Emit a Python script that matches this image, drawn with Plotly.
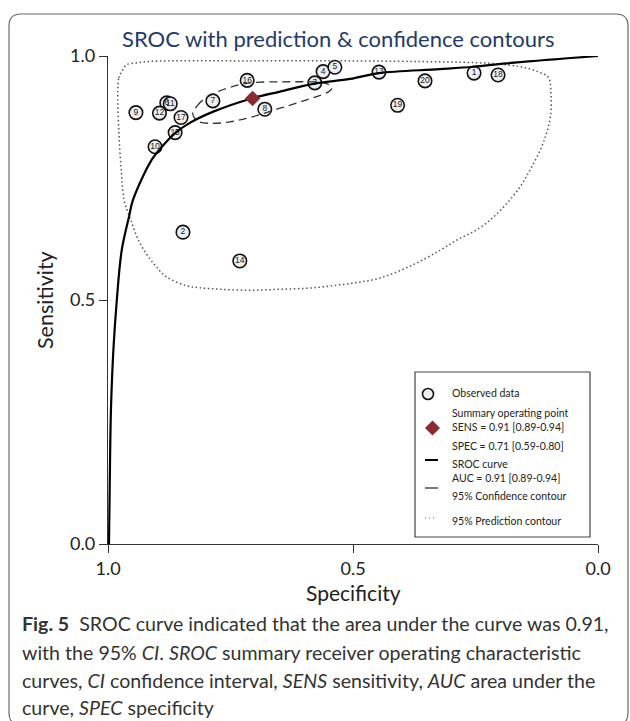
import plotly.graph_objects as go

# ---------------- data ----------------
study_ids = ["1", "2", "3", "4", "5", "6", "7", "8", "9", "10",
             "11", "12", "13", "14", "15", "16", "17", "18", "19", "20"]
study_spec = [0.253, 0.847, 0.578, 0.561, 0.537, 0.880, 0.786, 0.680, 0.943, 0.904,
              0.873, 0.895, 0.447, 0.731, 0.863, 0.716, 0.851, 0.204, 0.409, 0.353]
study_sens = [0.965, 0.639, 0.945, 0.968, 0.977, 0.904, 0.908, 0.891, 0.884, 0.814,
              0.902, 0.883, 0.967, 0.580, 0.843, 0.950, 0.874, 0.961, 0.899, 0.949]

summary_spec = [0.705]
summary_sens = [0.913]

sroc_spec = [0.998, 0.996, 0.994, 0.989, 0.982, 0.972, 0.957, 0.949, 0.911, 0.890,
             0.863, 0.833, 0.785, 0.707, 0.649, 0.581, 0.506, 0.447, 0.323, 0.254,
             0.186, 0.0]
sroc_sens = [0.0, 0.158, 0.275, 0.398, 0.500, 0.602, 0.671, 0.705, 0.787, 0.814,
             0.842, 0.863, 0.886, 0.913, 0.927, 0.943, 0.953, 0.965, 0.973, 0.978,
             0.985, 1.0]

conf_spec = [0.827, 0.818, 0.806, 0.782, 0.751, 0.710, 0.649, 0.588, 0.563, 0.549,
             0.543, 0.551, 0.571, 0.601, 0.649, 0.703, 0.751, 0.792, 0.816, 0.827]
conf_sens = [0.881, 0.898, 0.910, 0.924, 0.936, 0.945, 0.947, 0.947, 0.946, 0.941,
             0.934, 0.926, 0.918, 0.908, 0.893, 0.876, 0.865, 0.862, 0.866, 0.881]

pred_spec = [0.980, 0.978, 0.972, 0.962, 0.941, 0.914, 0.710, 0.506, 0.322, 0.241,
             0.186, 0.145, 0.118, 0.101, 0.096, 0.097, 0.105, 0.118, 0.139, 0.159,
             0.186, 0.220, 0.254, 0.288, 0.322, 0.378, 0.445, 0.512, 0.582, 0.649,
             0.710, 0.771, 0.812, 0.839, 0.880, 0.908, 0.935, 0.955, 0.967, 0.973,
             0.978, 0.980]
pred_sens = [0.930, 0.955, 0.968, 0.982, 0.986, 0.989, 0.990, 0.990, 0.988, 0.986,
             0.982, 0.975, 0.966, 0.956, 0.924, 0.876, 0.842, 0.807, 0.766, 0.732,
             0.698, 0.664, 0.640, 0.623, 0.602, 0.572, 0.545, 0.533, 0.525, 0.522,
             0.520, 0.522, 0.525, 0.529, 0.547, 0.576, 0.617, 0.668, 0.705, 0.766,
             0.848, 0.930]

tick_vals = [0.0, 0.5, 1.0]
tick_text = ["0.0", "0.5", "1.0"]

title_text = "SROC with prediction &amp; confidence contours"
legend_lines = [
    ("Observed data", 393),
    ("Summary operating point", 413),
    ("SENS = 0.91 [0.89-0.94]", 427),
    ("SPEC = 0.71 [0.59-0.80]", 446),
    ("SROC curve", 464),
    ("AUC = 0.91 [0.89-0.94]", 478),
    ("95% Confidence contour", 496),
    ("95% Prediction contour", 521),
]
caption_lines = [
    "<b>Fig. 5</b>  SROC curve indicated that the area under the curve was 0.91,",
    "with the 95% <i>CI</i>. <i>SROC</i> summary receiver operating characteristic",
    "curves, <i>CI</i> confidence interval, <i>SENS</i> sensitivity, <i>AUC</i> area under the",
    "curve, <i>SPEC</i> specificity",
]
caption_y = [623, 652, 680, 707]

# ---------------- layout geometry ----------------
W, H = 630, 721
PL, PR, PT, PB = 108, 598, 56, 544
FONT = "Lato, 'Open Sans', sans-serif"


def px(xp):
    return (xp - PL) / (PR - PL)


def py(yp):
    return (PB - yp) / (PB - PT)


fig = go.Figure()

# observed studies
fig.add_trace(go.Scatter(
    x=study_spec, y=study_sens, mode="markers+text", text=study_ids,
    textposition="middle center",
    textfont=dict(size=8.5, color="#222222", family="Arial, sans-serif"),
    marker=dict(size=13.5, color="#eeeeee", line=dict(color="#111111", width=1.6)),
    showlegend=False, hoverinfo="skip", cliponaxis=False))

# prediction contour
fig.add_trace(go.Scatter(
    x=pred_spec, y=pred_sens, mode="lines", line_shape="spline",
    line=dict(color="#555555", width=1.5, dash="1.5px,2.6px"),
    showlegend=False, hoverinfo="skip"))

# confidence contour
fig.add_trace(go.Scatter(
    x=conf_spec, y=conf_sens, mode="lines", line_shape="spline",
    line=dict(color="#333333", width=1.3, dash="8px,5px"),
    showlegend=False, hoverinfo="skip"))

# SROC curve
fig.add_trace(go.Scatter(
    x=sroc_spec, y=sroc_sens, mode="lines", line_shape="spline",
    line=dict(color="#000000", width=2.2),
    showlegend=False, hoverinfo="skip", cliponaxis=False))

# summary point
fig.add_trace(go.Scatter(
    x=summary_spec, y=summary_sens, mode="markers",
    marker=dict(symbol="diamond", size=12, color="#8c2a31", line=dict(width=0)),
    showlegend=False, hoverinfo="skip"))

shapes = []
annotations = []

# outer rounded frame
fx0, fx1, fy0, fy1, r = 9, 628, 14, 725, 12
pts = [
    ("M", fx0 + r, fy0), ("L", fx1 - r, fy0), ("Q", fx1, fy0, fx1, fy0 + r),
    ("L", fx1, fy1 - r), ("Q", fx1, fy1, fx1 - r, fy1), ("L", fx0 + r, fy1),
    ("Q", fx0, fy1, fx0, fy1 - r), ("L", fx0, fy0 + r), ("Q", fx0, fy0, fx0 + r, fy0),
]
path = ""
for p in pts:
    cmd = p[0]
    coords = p[1:]
    seg = cmd
    for i in range(0, len(coords), 2):
        seg += " %.5f,%.5f" % (px(coords[i]), py(coords[i + 1]))
    path += seg + " "
path += "Z"
shapes.append(dict(type="path", xref="paper", yref="paper", path=path,
                   line=dict(color="#6a6a6a", width=1.2), layer="below"))

# legend box
shapes.append(dict(type="rect", xref="paper", yref="paper",
                   x0=px(415), x1=px(590), y0=py(372), y1=py(537),
                   line=dict(color="#444444", width=1.2), fillcolor="white"))
# legend symbols
shapes.append(dict(type="circle", xref="paper", yref="paper",
                   x0=px(422.5), x1=px(433.5), y0=py(388.5), y1=py(399.5),
                   line=dict(color="#111111", width=1.6), fillcolor="#eeeeee"))
dcx, dcy, dw = 432.5, 428, 7.5
shapes.append(dict(type="path", xref="paper", yref="paper",
                   path="M %.5f,%.5f L %.5f,%.5f L %.5f,%.5f L %.5f,%.5f Z" % (
                       px(dcx), py(dcy - dw), px(dcx + dw), py(dcy),
                       px(dcx), py(dcy + dw), px(dcx - dw), py(dcy)),
                   line=dict(width=0), fillcolor="#8c2a31"))
shapes.append(dict(type="line", xref="paper", yref="paper",
                   x0=px(425), x1=px(438), y0=py(460), y1=py(460),
                   line=dict(color="#000000", width=2)))
shapes.append(dict(type="line", xref="paper", yref="paper",
                   x0=px(425), x1=px(438), y0=py(488), y1=py(488),
                   line=dict(color="#555555", width=1.6)))
shapes.append(dict(type="line", xref="paper", yref="paper",
                   x0=px(425), x1=px(436), y0=py(518), y1=py(518),
                   line=dict(color="#666666", width=1.2, dash="1px,3px")))

for txt, yy in legend_lines:
    annotations.append(dict(xref="paper", yref="paper", x=px(450), y=py(yy),
                            text=txt, showarrow=False, xanchor="left", yanchor="middle",
                            font=dict(size=10.5, color="#222222", family=FONT)))

# title
annotations.append(dict(xref="paper", yref="paper", x=px(338), y=py(38),
                        text=title_text, showarrow=False, xanchor="center",
                        yanchor="middle",
                        font=dict(size=22, color="#233a6a", family=FONT)))

# axis titles
annotations.append(dict(xref="paper", yref="paper", x=px(353), y=py(592),
                        text="Specificity", showarrow=False, xanchor="center",
                        yanchor="middle",
                        font=dict(size=21, color="#222222", family=FONT)))
annotations.append(dict(xref="paper", yref="paper", x=px(45), y=py(300),
                        text="Sensitivity", showarrow=False, textangle=-90,
                        xanchor="center", yanchor="middle",
                        font=dict(size=21.5, color="#222222", family=FONT)))

# caption
for txt, yy in zip(caption_lines, caption_y):
    annotations.append(dict(xref="paper", yref="paper", x=px(20), y=py(yy),
                            text=txt, showarrow=False, xanchor="left",
                            yanchor="middle",
                            font=dict(size=19.6, color="#333333", family=FONT)))

fig.update_layout(
    width=W, height=H,
    margin=dict(l=PL, r=W - PR, t=PT, b=H - PB, pad=0),
    paper_bgcolor="white", plot_bgcolor="white",
    shapes=shapes, annotations=annotations,
    xaxis=dict(range=[1.0, 0.0], tickvals=tick_vals, ticktext=tick_text,
               showgrid=False, zeroline=False, showline=True, linecolor="#333333",
               linewidth=1.3, ticks="outside", ticklen=8, tickcolor="#333333",
               tickwidth=1.3,
               tickfont=dict(size=18, color="#222222", family=FONT)),
    yaxis=dict(range=[0.0, 1.0], tickvals=tick_vals, ticktext=tick_text,
               showgrid=False, zeroline=False, showline=True, linecolor="#333333",
               linewidth=1.3, ticks="outside", ticklen=8, tickcolor="#333333",
               tickwidth=1.3,
               tickfont=dict(size=18, color="#222222", family=FONT)),
)

fig.write_html("out.html", config={"displayModeBar": False},
               post_script="document.body.style.margin='0';")
